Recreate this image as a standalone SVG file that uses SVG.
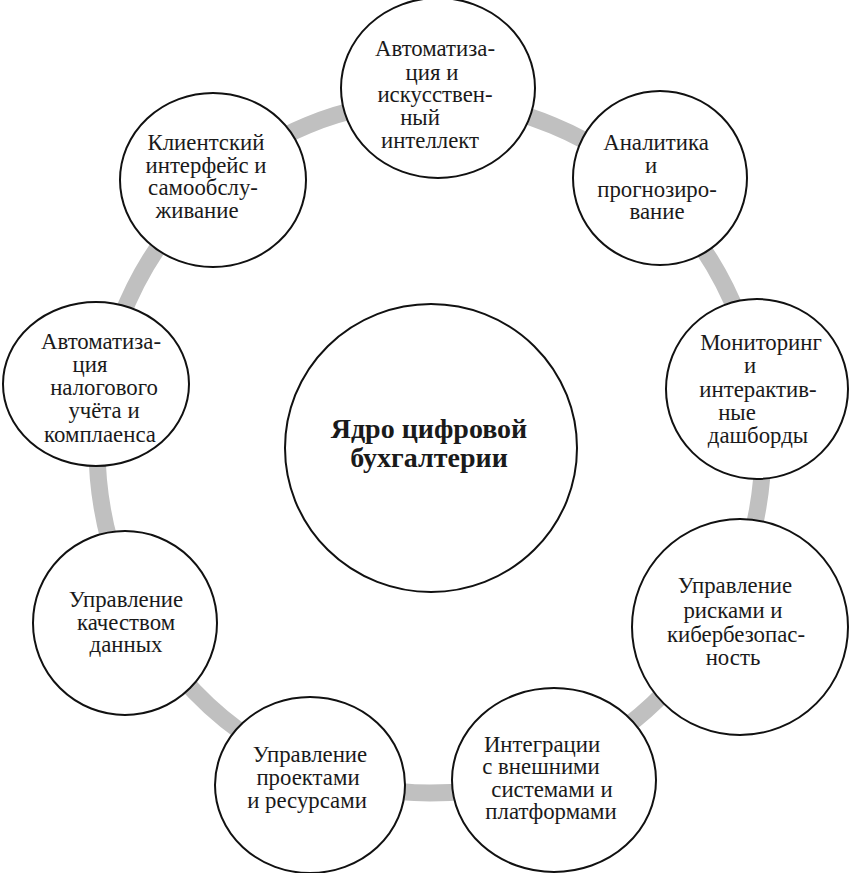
<svg xmlns="http://www.w3.org/2000/svg" width="849" height="873" viewBox="0 0 849 873">
<style>
.bg{fill:#fff}
.ring{fill:none;stroke:#c0c0c0;stroke-width:17}
.node ellipse{fill:#fff;stroke:#111;stroke-width:2}
.lbl{font-family:"Liberation Serif","Tinos","DejaVu Serif","Noto Serif",serif;font-size:22.8px;fill:#1a1a1a;text-anchor:middle}
.core{font-weight:bold;font-size:28px}
</style>
<rect class="bg" x="0" y="0" width="849" height="873"/>
<g id="connectors">
<ellipse class="ring" cx="430" cy="447" rx="333" ry="346"/>
</g>
<g id="core" class="node">
<ellipse cx="431" cy="448" rx="146" ry="144"/>
<text class="lbl core"><tspan x="429" y="438">Ядро цифровой</tspan><tspan x="429" y="467">бухгалтерии</tspan></text>
</g>
<g id="ai" class="node">
<ellipse cx="438" cy="88" rx="97" ry="90"/>
<text class="lbl"><tspan x="435" y="56">Автоматиза-</tspan><tspan x="432" y="80">ция  и</tspan><tspan x="435" y="102">искусствен-</tspan><tspan x="420" y="125">ный</tspan><tspan x="430" y="148">интеллект</tspan></text>
</g>
<g id="analytics" class="node">
<ellipse cx="660" cy="178" rx="87" ry="87"/>
<text class="lbl"><tspan x="656" y="150">Аналитика</tspan><tspan x="651" y="173">и</tspan><tspan x="657" y="197">прогнозиро-</tspan><tspan x="657" y="219">вание</tspan></text>
</g>
<g id="monitoring" class="node">
<ellipse cx="757" cy="389" rx="91" ry="90"/>
<text class="lbl"><tspan x="761" y="350">Мониторинг</tspan><tspan x="750" y="373">и</tspan><tspan x="758" y="397">интерактив-</tspan><tspan x="737" y="420">ные</tspan><tspan x="758" y="443">дашборды</tspan></text>
</g>
<g id="risks" class="node">
<ellipse cx="740" cy="627" rx="108" ry="108"/>
<text class="lbl"><tspan x="735" y="593">Управление</tspan><tspan x="733" y="618">рисками и</tspan><tspan x="736" y="642">кибербезопас-</tspan><tspan x="733" y="665">ность</tspan></text>
</g>
<g id="integrations" class="node">
<ellipse cx="554" cy="780" rx="102" ry="92"/>
<text class="lbl"><tspan x="542" y="752">Интеграции</tspan><tspan x="541" y="774">с внешними</tspan><tspan x="552" y="797">системами и</tspan><tspan x="551" y="819">платформами</tspan></text>
</g>
<g id="projects" class="node">
<ellipse cx="310" cy="785" rx="95" ry="88"/>
<text class="lbl"><tspan x="310" y="762">Управление</tspan><tspan x="308" y="785">проектами</tspan><tspan x="307" y="808">и  ресурсами</tspan></text>
</g>
<g id="quality" class="node">
<ellipse cx="125" cy="623" rx="92" ry="92"/>
<text class="lbl"><tspan x="126" y="607">Управление</tspan><tspan x="126" y="630">качеством</tspan><tspan x="126" y="652">данных</tspan></text>
</g>
<g id="tax" class="node">
<ellipse cx="96" cy="384" rx="93" ry="82"/>
<text class="lbl"><tspan x="101" y="349">Автоматиза-</tspan><tspan x="90" y="372">ция</tspan><tspan x="104" y="395">налогового</tspan><tspan x="104" y="418">учёта и</tspan><tspan x="100" y="442">комплаенса</tspan></text>
</g>
<g id="client" class="node">
<ellipse cx="213" cy="180" rx="93" ry="87"/>
<text class="lbl"><tspan x="206" y="150">Клиентский</tspan><tspan x="206" y="173">интерфейс и</tspan><tspan x="203" y="195">самообслу-</tspan><tspan x="197" y="218">живание</tspan></text>
</g>
</svg>
